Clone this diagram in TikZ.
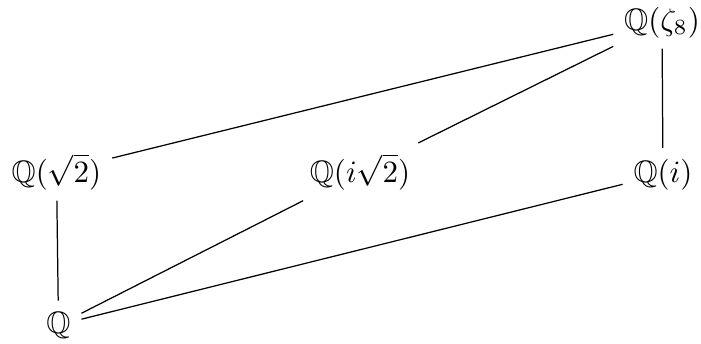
\documentclass[tikz,border=0pt]{standalone}
\usepackage{amssymb}
\begin{document}
\begin{tikzpicture}[x=0.3226pt,y=-0.3226pt,
  field/.style={anchor=base,inner sep=0.333em},
  link/.style={draw,line width=0.4pt}]
\useasboundingbox (0,0) rectangle (701,344);
\node[field] (z8) at (662,30) {$\mathbb{Q}(\zeta_8)$};
\node[field] (r2) at (56.5,182) {$\mathbb{Q}(\sqrt{2})$};
\node[field] (ir2) at (360,182) {$\mathbb{Q}(i\sqrt{2})$};
\node[field] (i) at (663,182) {$\mathbb{Q}(i)$};
\node[field] (q) at (58.5,333) {$\mathbb{Q}$};
\path[link] (z8) -- (r2);
\path[link] (z8) -- (ir2);
\path[link] (z8) -- (i);
\path[link] (r2) -- (q);
\path[link] (ir2) -- (q);
\path[link] (i) -- (q);
\end{tikzpicture}
\end{document}
